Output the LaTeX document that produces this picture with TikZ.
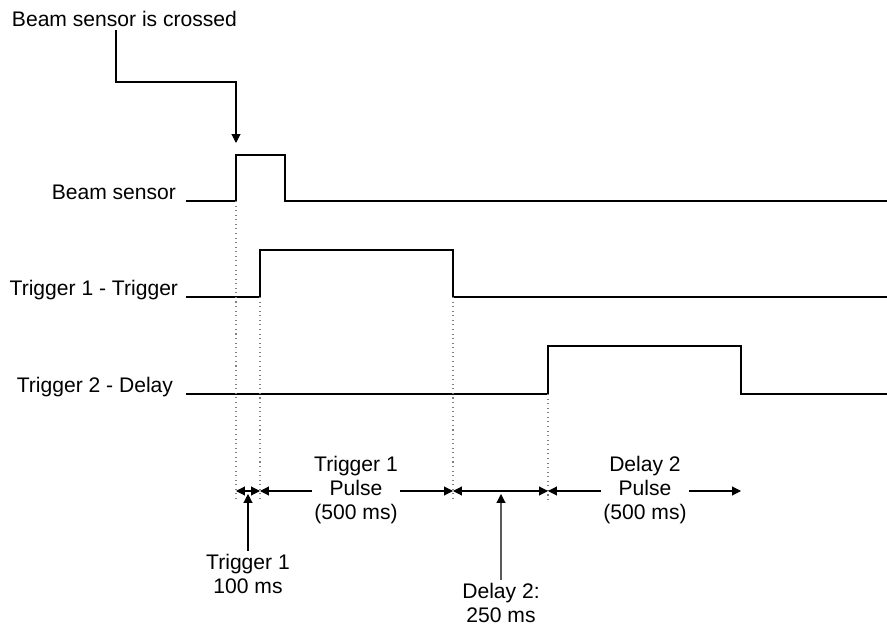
\documentclass[tikz,border=0pt]{standalone}
\usepackage{fontspec}
\setmainfont{Liberation Sans}
\usetikzlibrary{arrows.meta}

\begin{document}
\begin{tikzpicture}[x=0.02cm, y=-0.02cm,
    >={Triangle[length=5pt,width=5pt]},
    wave/.style={line width=1.7pt, line join=miter},
    guide/.style={gray, dotted, line width=0.6pt},
    dim/.style={line width=0.6pt},
    lbl/.style={font=\fontsize{12}{13.6}\selectfont, inner sep=1.5pt},
    span/.style={lbl, align=center, inner sep=1pt}]
    \useasboundingbox (0,0) rectangle (887,628);

    % Signal names on the left
    \node[lbl, anchor=base west] (crossed) at (9,27) {Beam sensor is crossed};
    \node[lbl, anchor=base east] (bsl) at (179,200) {Beam sensor};
    \node[lbl, anchor=base east] (t1l) at (181,296) {Trigger 1 - Trigger};
    \node[lbl, anchor=base east] (t2l) at (176,393) {Trigger 2 - Delay};

    % Waveforms
    \draw[wave] (186,201) -- (236,201) -- (236,155) -- (285,155) -- (285,201) -- (887,201);
    \draw[wave] (186,297) -- (260,297) -- (260,250) -- (453,250) -- (453,297) -- (887,297);
    \draw[wave] (186,394) -- (548,394) -- (548,346) -- (741,346) -- (741,394) -- (887,394);

    % Dotted guides down to the time line
    \foreach \x/\y in {236/201, 260/297, 453/297, 548/394}
        \draw[guide] (\x,\y) -- (\x,502);

    % Beam crossing callout
    \coordinate (knee) at (116,82);
    \coordinate (hit) at (236,143);
    \draw[dim, ->] (crossed.south -| knee) -- (knee) -| (hit);

    % Time line marks
    \coordinate (d1) at (236,491);
    \coordinate (d2) at (260,491);
    \coordinate (d3) at (453,491);
    \coordinate (d4) at (548,491);
    \coordinate (d5) at (741,491);

    \node[span] (t1pulse) at (356,490) {Trigger 1\\Pulse\\(500 ms)};
    \node[span] (d2pulse) at (645,490) {Delay 2\\Pulse\\(500 ms)};

    \draw[dim, <->] (d1) -- (d2);
    \draw[dim, ->] (t1pulse.west |- d2) -- (d2);
    \draw[dim, ->] (t1pulse.east |- d3) -- (d3);
    \draw[dim, <->] (d3) -- (d4);
    \draw[dim, ->] (d2pulse.west |- d4) -- (d4);
    \draw[dim, ->] (d2pulse.east |- d5) -- (d5);

    % Notes below with pointers
    \node[lbl, align=center, anchor=north] (t1ms) at (248,551) {Trigger 1\\100 ms};
    \node[lbl, align=center, anchor=north] (d2ms) at (501,580) {Delay 2:\\250 ms};
    \coordinate (up1) at (248,494);
    \coordinate (up2) at (501,494);
    \draw[dim, ->] (t1ms.north) -- (up1);
    \draw[dim, gray!70!black, -{Triangle[length=5pt,width=5pt,black]}] (d2ms.north) -- (up2);
\end{tikzpicture}
\end{document}
